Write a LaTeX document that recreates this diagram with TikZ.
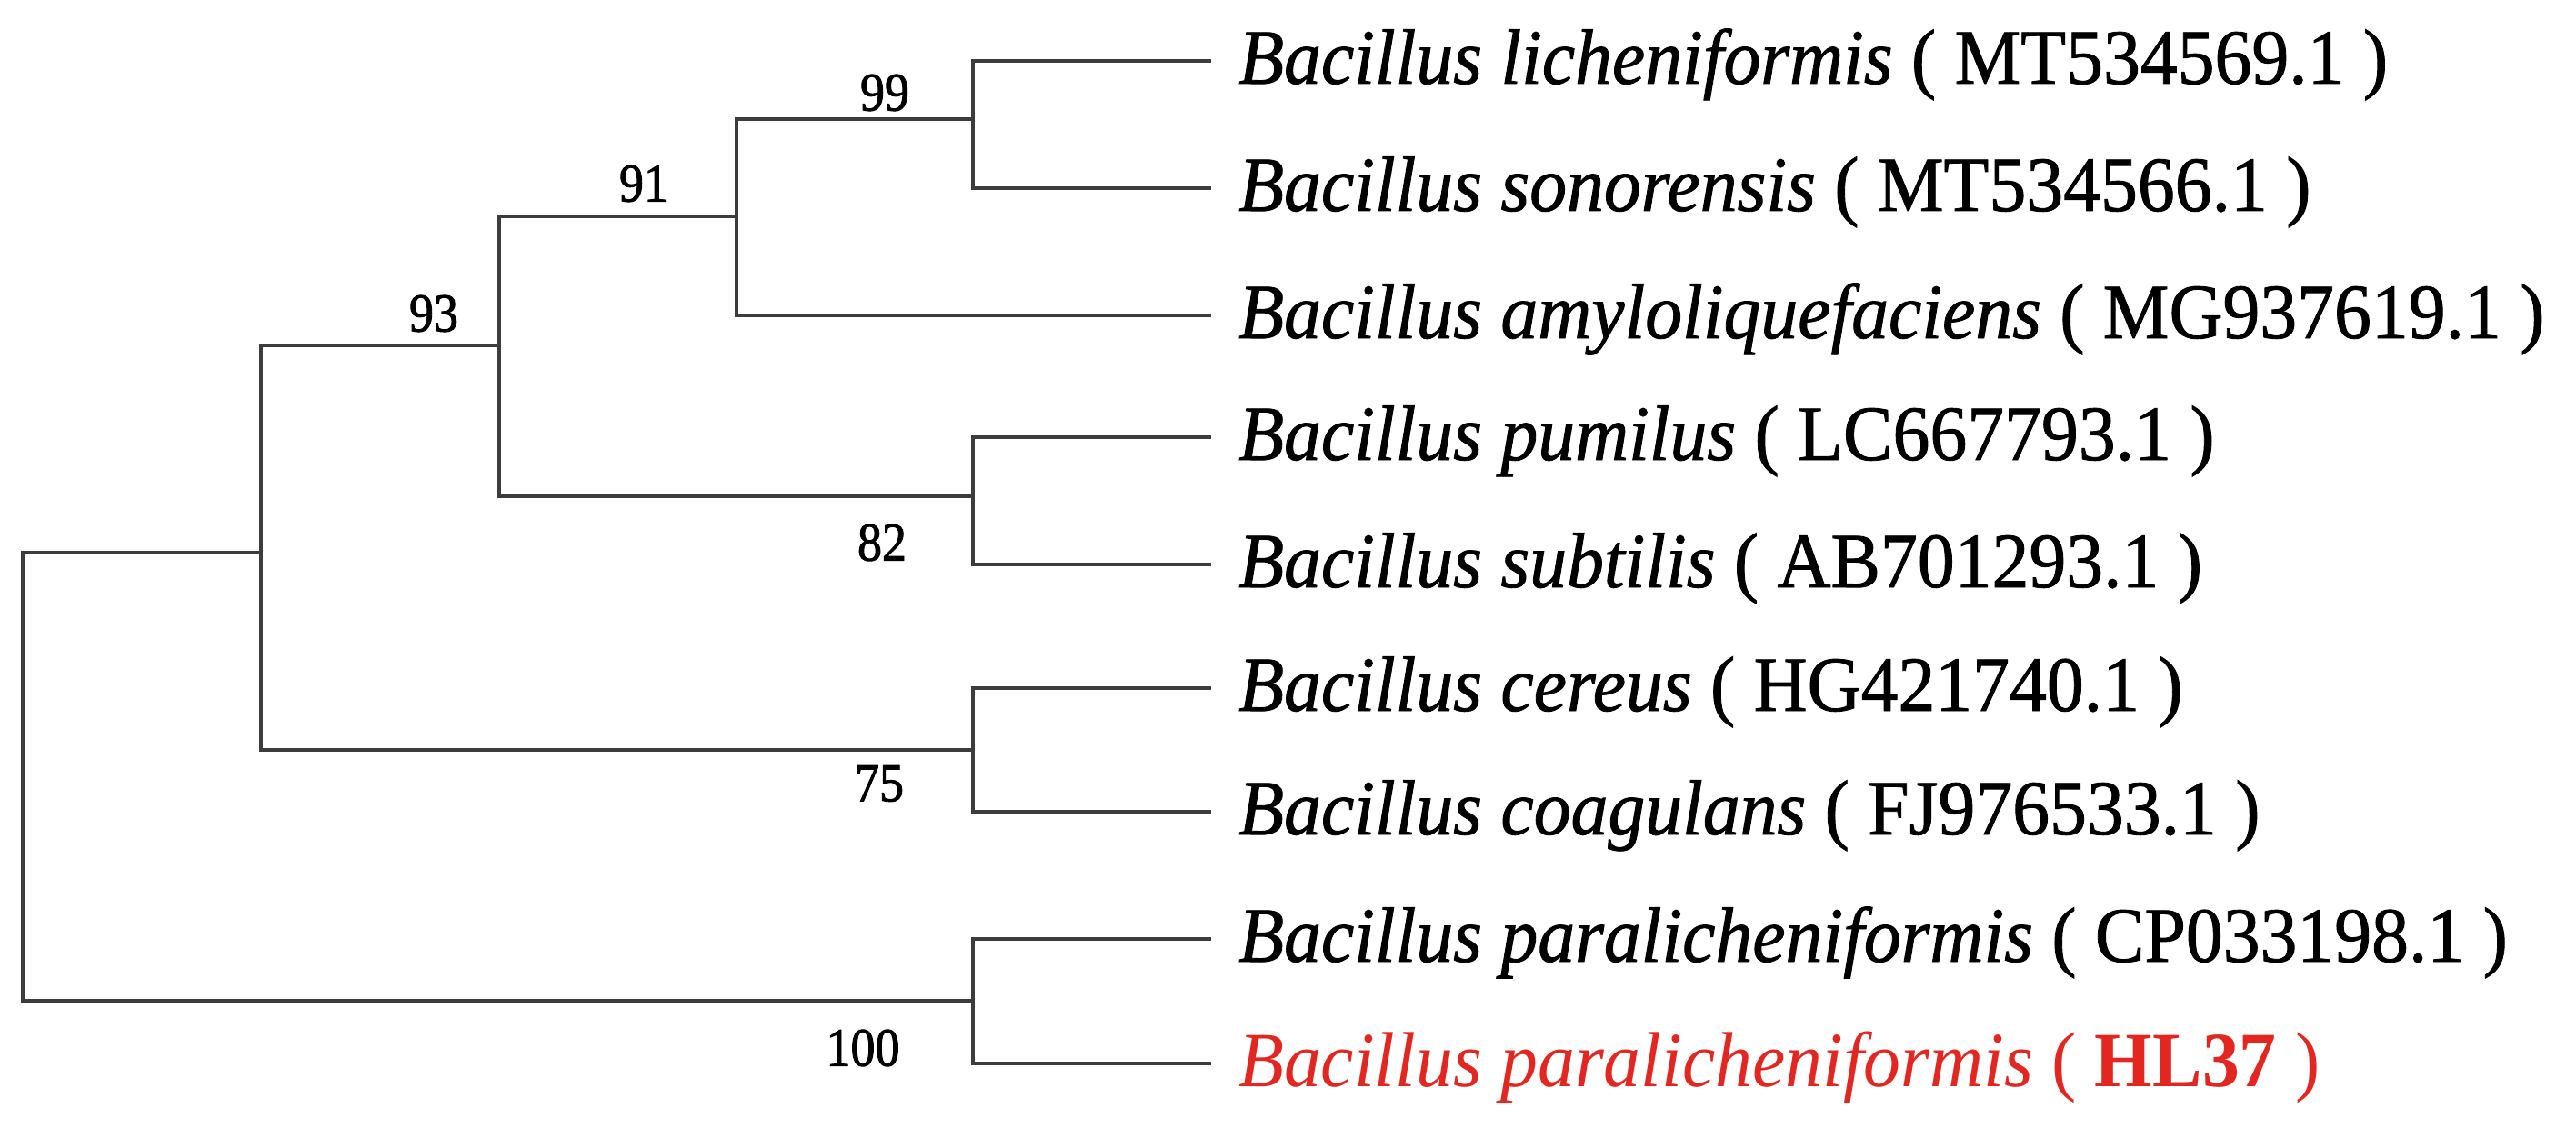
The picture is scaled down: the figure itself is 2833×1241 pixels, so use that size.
\documentclass[tikz,border=0pt]{standalone}
\usepackage{fontspec}
\setmainfont{Liberation Serif}
\newfontfamily\labfont[FakeStretch=0.95,FakeBold=1]{Liberation Serif}
\newfontfamily\redfont[FakeStretch=0.95]{Liberation Serif}
\newfontfamily\numfont[FakeStretch=0.9,FakeBold=1.5]{Liberation Serif}
\definecolor{treeline}{RGB}{60,60,60}
\definecolor{hlred}{RGB}{228,38,33}
\tikzset{
  branch/.style={draw=treeline, line width=4pt, line cap=rect, line join=miter},
  taxon/.style={anchor=base west, inner sep=0pt, font=\labfont\fontsize{86}{90}\selectfont},
  redtaxon/.style={anchor=base west, inner sep=0pt, text=hlred, font=\redfont\fontsize{86}{90}\selectfont},
  boot/.style={anchor=center, inner sep=0pt, font=\numfont\fontsize{60}{64}\selectfont},
}
\begin{document}
\begin{tikzpicture}[x=1pt,y=-1pt]
\useasboundingbox (0,0) rectangle (2833,1241);
% internal nodes
\coordinate (root) at (25,608);
\coordinate (rootL) at (25,1101);
\coordinate (nA) at (287,608);
\coordinate (n93) at (549,380);
\coordinate (n91) at (810,238);
\coordinate (n99) at (1070,131);
\coordinate (n82) at (1070,546);
\coordinate (n75) at (1070,825);
\coordinate (n100) at (1070,1101);
% leaf tips
\coordinate (t1) at (1330,67);
\coordinate (t2) at (1330,207);
\coordinate (t3) at (1330,347);
\coordinate (t4) at (1330,481);
\coordinate (t5) at (1330,621);
\coordinate (t6) at (1330,757);
\coordinate (t7) at (1330,893);
\coordinate (t8) at (1330,1033);
\coordinate (t9) at (1330,1170);
% branches
\draw[branch] (nA) -- (root) -- (rootL) -- (n100);
\draw[branch] (n93) -| (nA) |- (n75);
\draw[branch] (n91) -| (n93) |- (n82);
\draw[branch] (n99) -| (n91) |- (t3);
\draw[branch] (t1) -| (n99) |- (t2);
\draw[branch] (t4) -| (n82) |- (t5);
\draw[branch] (t6) -| (n75) |- (t7);
\draw[branch] (t8) -| (n100) |- (t9);
% bootstrap values
\node[boot] (b99) at (973,102) {99};
\node[boot] (b91) at (708,202) {91};
\node[boot] (b93) at (477,345) {93};
\node[boot] (b82) at (970,597) {82};
\node[boot] (b75) at (967,862) {75};
\node[boot] (b100) at (949,1153) {100};
% taxa
\node[taxon] (L1) at (1362,92) {\itshape Bacillus licheniformis\upshape{} ( MT534569.1 )};
\node[taxon] (L2) at (1362,232) {\itshape Bacillus sonorensis\upshape{} ( MT534566.1 )};
\node[taxon] (L3) at (1362,372) {\itshape Bacillus amyloliquefaciens\upshape{} ( MG937619.1 )};
\node[taxon] (L4) at (1362,506) {\itshape Bacillus pumilus\upshape{} ( LC667793.1 )};
\node[taxon] (L5) at (1362,646) {\itshape Bacillus subtilis\upshape{} ( AB701293.1 )};
\node[taxon] (L6) at (1362,782) {\itshape Bacillus cereus\upshape{} ( HG421740.1 )};
\node[taxon] (L7) at (1362,918) {\itshape Bacillus coagulans\upshape{} ( FJ976533.1 )};
\node[taxon] (L8) at (1362,1058) {\itshape Bacillus paralicheniformis\upshape{} ( CP033198.1 )};
\node[redtaxon] (L9) at (1362,1195) {\itshape Bacillus paralicheniformis\upshape{} ( \textbf{HL37} )};
\end{tikzpicture}
\end{document}
